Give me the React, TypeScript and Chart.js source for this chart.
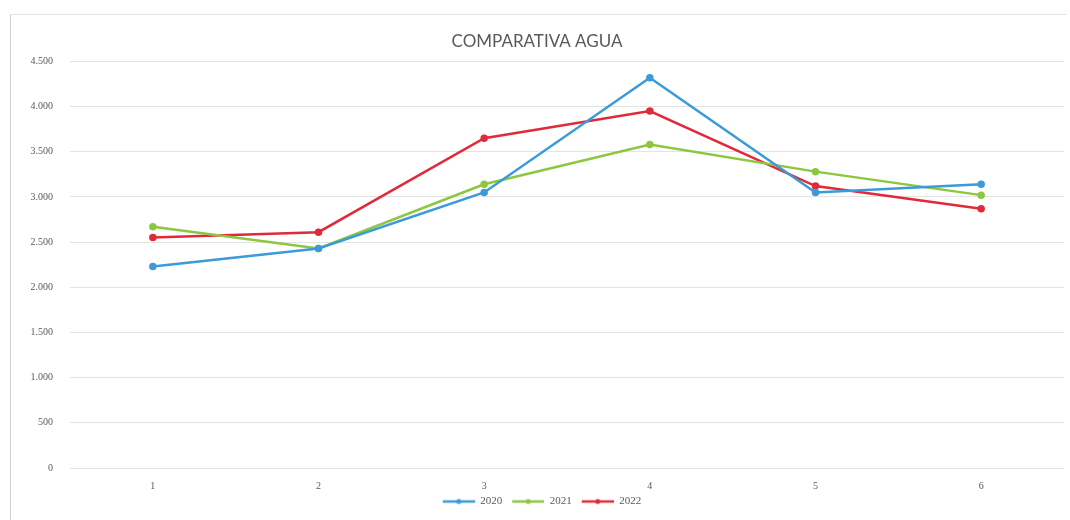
import React, { useEffect, useRef } from "react";
import { Chart, registerables } from "chart.js";

Chart.register(...registerables);

const categories = ["1", "2", "3", "4", "5", "6"];
const series2020 = [2230, 2430, 3050, 4320, 3050, 3140];
const series2021 = [2670, 2430, 3140, 3580, 3280, 3020];
const series2022 = [2550, 2610, 3650, 3950, 3120, 2870];
const seriesNames = ["2020", "2021", "2022"];
const seriesColors = ["#3b9bd8", "#8dc63f", "#e02a3a"];

const fmt = (v: number) => {
  const s = String(Math.round(v));
  return s.replace(/\B(?=(\d{3})+(?!\d))/g, ".");
};

function legendIcon(color: string) {
  const c = document.createElement("canvas");
  c.width = 42;
  c.height = 8;
  const ctx = c.getContext("2d")!;
  ctx.strokeStyle = color;
  ctx.lineWidth = 2.5;
  ctx.beginPath();
  ctx.moveTo(10, 4);
  ctx.lineTo(42, 4);
  ctx.stroke();
  ctx.fillStyle = color;
  ctx.beginPath();
  ctx.arc(26, 4, 2.5, 0, Math.PI * 2);
  ctx.fill();
  return c;
}

export default function App() {
  const ref = useRef<HTMLCanvasElement | null>(null);
  useEffect(() => {
    if (!ref.current) return;
    const values = [series2020, series2021, series2022];
    const icons = seriesColors.map(legendIcon);
    const chart = new Chart(ref.current, {
      type: "line",
      data: {
        labels: categories,
        datasets: values.map((d, i) => ({
          label: seriesNames[i],
          data: d,
          borderColor: seriesColors[i],
          backgroundColor: seriesColors[i],
          borderWidth: 2.5,
          pointRadius: 2.5,
          pointHoverRadius: 2.5,
          tension: 0,
        })),
      },
      options: {
        animation: false,
        responsive: false,
        maintainAspectRatio: false,
        layout: { padding: { left: 10, right: 6, top: 31, bottom: 3 } },
        plugins: {
          tooltip: { enabled: false },
          title: {
            display: true,
            text: "COMPARATIVA AGUA",
            color: "#595959",
            font: { family: "Lato", size: 17, weight: "normal" },
            padding: { top: 0, bottom: 10 },
          },
          legend: {
            position: "bottom",
            labels: {
              usePointStyle: true,
              pointStyleWidth: 42,
              color: "#595959",
              font: { family: "Liberation Serif", size: 11 },
              padding: 0,
              boxHeight: 8,
              generateLabels: (ch: any) =>
                ch.data.datasets.map((ds: any, i: number) => ({
                  text: ds.label,
                  fillStyle: ds.borderColor,
                  strokeStyle: ds.borderColor,
                  lineWidth: 0,
                  pointStyle: icons[i],
                  datasetIndex: i,
                  hidden: false,
                  fontColor: "#595959",
                })),
            },
          },
        },
        scales: {
          x: {
            offset: true,
            grid: { display: false },
            border: { display: false },
            ticks: {
              color: "#595959",
              font: { family: "Liberation Serif", size: 10 },
              padding: 4,
            },
          },
          y: {
            min: 0,
            max: 4500,
            afterFit: (s: any) => {
              s.width = 60;
            },
            grid: { color: "#e3e3e3", lineWidth: 1, drawTicks: false },
            border: { display: false },
            ticks: {
              stepSize: 500,
              color: "#595959",
              font: { family: "Liberation Serif", size: 10 },
              padding: 17,
              callback: (v: any) => fmt(Number(v)),
            },
          },
        },
      },
    });
    return () => chart.destroy();
  }, []);
  return (
    <div style={{ position: "absolute", left: 0, top: 0, width: 1070, height: 520, background: "#fff" }}>
      <div
        style={{
          position: "absolute",
          left: 10,
          top: 14,
          width: 1056,
          height: 520,
          borderLeft: "1px solid #d0d0d0",
          borderTop: "1px solid #e4e4e4",
        }}
      />
      <canvas ref={ref} width={1070} height={520} style={{ position: "absolute", left: 0, top: 0 }} />
    </div>
  );
}
